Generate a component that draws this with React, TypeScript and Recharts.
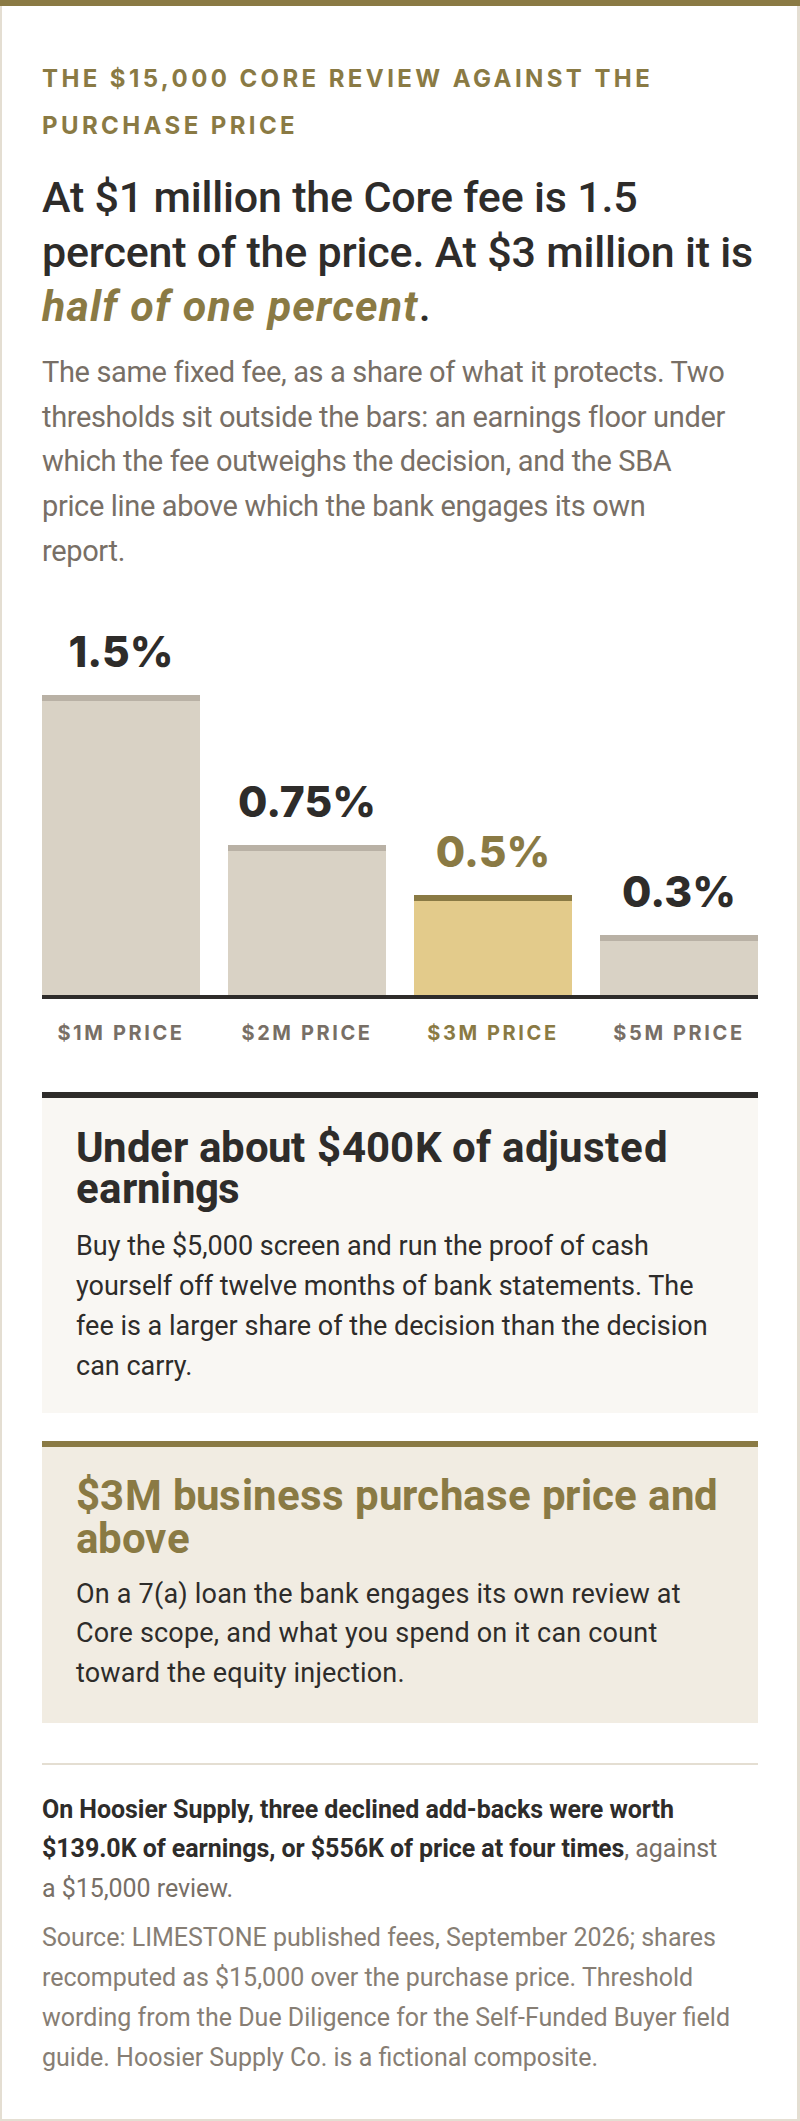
import React from 'react';
import { BarChart, Bar, XAxis, YAxis, LabelList, ReferenceLine } from 'recharts';

const categories = ['$1M PRICE', '$2M PRICE', '$3M PRICE', '$5M PRICE'];
const shares = [1.5, 0.75, 0.5, 0.3];
const shareLabels = ['1.5%', '0.75%', '0.5%', '0.3%'];
const highlightCategory = '$3M PRICE';

const data = categories.map((category, i) => ({ category, share: shares[i], label: shareLabels[i] }));

const GOLD = '#8a7a44';
const DARK = '#2e2c2a';
const GRAY = '#786f66';
const LIGHTGRAY = '#877e74';
const BEIGE = '#e4ded2';

const ROBOTO = 'Roboto, "Noto Sans", sans-serif';
const TITLE = 'TitleBold, Roboto, "Noto Sans", sans-serif';
const INTER = 'Inter, Roboto, sans-serif';

const fontCss = `
@font-face {
  font-family: 'TitleBold';
  src: local('Roboto Bold'), local('Roboto-Bold');
  font-weight: 700;
  font-style: normal;
  ascent-override: 80%;
  descent-override: 18%;
  line-gap-override: 0%;
}
`;

const BarShape = (props: any) => {
  const { x, y, width, height, payload } = props;
  const hi = payload && payload.category === highlightCategory;
  const fill = hi ? '#e3cb8b' : '#d9d2c5';
  const cap = hi ? GOLD : '#b9b1a5';
  return (
    <g>
      <rect x={x} y={y} width={width} height={height} fill={fill} />
      <rect x={x} y={y} width={width} height={Math.min(6, height)} fill={cap} />
    </g>
  );
};

const ValueLabel = (props: any) => {
  const { x, y, width, value } = props;
  const hi = value === shareLabels[categories.indexOf(highlightCategory)];
  return (
    <text
      x={x + width / 2}
      y={y - 28}
      textAnchor="middle"
      fill={hi ? GOLD : DARK}
      style={{ fontFamily: INTER, fontWeight: 800, fontSize: 42.5 }}
    >
      {value}
    </text>
  );
};

const CategoryTick = (props: any) => {
  const { x, y, payload } = props;
  const hi = payload.value === highlightCategory;
  return (
    <text
      x={x}
      y={y + 45}
      textAnchor="middle"
      fill={hi ? GOLD : GRAY}
      style={{ fontFamily: INTER, fontWeight: 700, fontSize: 20, letterSpacing: 2.6 }}
    >
      {payload.value}
    </text>
  );
};

const Baseline = (props: any) => {
  const { x1, x2, y1 } = props;
  return <rect x={Math.min(x1, x2)} y={y1} width={Math.abs(x2 - x1)} height={4} fill={DARK} />;
};

const abs = (top: number, extra: React.CSSProperties = {}): React.CSSProperties => ({
  position: 'absolute',
  left: 42,
  top,
  whiteSpace: 'nowrap',
  margin: 0,
  ...extra,
});

export default function App() {
  return (
    <div style={{ position: 'absolute', left: 0, top: 0, width: 800, height: 2121, background: '#ffffff', overflow: 'hidden' }}>
      <style>{fontCss}</style>
      {/* card frame */}
      <div style={{ position: 'absolute', left: 0, top: 0, width: 2, height: 2121, background: BEIGE }} />
      <div style={{ position: 'absolute', right: 0, top: 0, width: 3, height: 2121, background: BEIGE }} />
      <div style={{ position: 'absolute', left: 0, bottom: 0, width: 800, height: 2, background: BEIGE }} />
      <div style={{ position: 'absolute', left: 0, top: 0, width: 800, height: 6, background: GOLD }} />

      {/* eyebrow */}
      <div style={abs(55, { fontFamily: INTER, fontWeight: 700, fontSize: 24, lineHeight: '47px', letterSpacing: 3.4, color: GOLD })}>
        THE $15,000 CORE REVIEW AGAINST THE
        <br />
        PURCHASE PRICE
      </div>

      {/* headline */}
      <div style={abs(170, { fontFamily: ROBOTO, fontWeight: 500, fontSize: 43, lineHeight: '54.5px', color: DARK, letterSpacing: -0.2 })}>
        At $1 million the Core fee is 1.5
        <br />
        percent of the price. At $3 million it is
        <br />
        <em style={{ color: GOLD, fontWeight: 700, letterSpacing: 1.2 }}>half of one percent</em>.
      </div>

      {/* subtitle */}
      <div style={abs(350, { fontFamily: ROBOTO, fontWeight: 400, fontSize: 29, lineHeight: '44.7px', color: GRAY, letterSpacing: -0.35 })}>
        The same fixed fee, as a share of what it protects. Two
        <br />
        thresholds sit outside the bars: an earnings floor under
        <br />
        which the fee outweighs the decision, and the SBA
        <br />
        price line above which the bank engages its own
        <br />
        report.
      </div>

      {/* chart */}
      <div style={{ position: 'absolute', left: 42, top: 600 }}>
        <BarChart width={716} height={480} data={data} margin={{ top: 95, right: 0, bottom: 25, left: 0 }}>
          <YAxis hide type="number" domain={[0, 1.5]} tickCount={4} allowDataOverflow />
          <XAxis
            dataKey="category"
            axisLine={false}
            tickLine={false}
            tickSize={0}
            tickMargin={0}
            height={60}
            interval={0}
            padding={{ left: -14, right: -14 }}
            tick={<CategoryTick />}
          />
          <Bar dataKey="share" barSize={158} shape={<BarShape />} isAnimationActive={false}>
            <LabelList dataKey="label" content={<ValueLabel />} />
          </Bar>
          <ReferenceLine y={0} shape={<Baseline />} ifOverflow="visible" />
        </BarChart>
      </div>

      {/* box 1 */}
      <div style={{ position: 'absolute', left: 42, top: 1092, width: 716, height: 321, background: '#f9f7f3', borderTop: `6px solid ${DARK}`, boxSizing: 'border-box' }} />
      <div style={abs(1128.5, { left: 76, fontFamily: TITLE, fontWeight: 700, fontSize: 42, lineHeight: '41px', color: DARK, letterSpacing: 0.35 })}>
        Under about $400K of adjusted
        <br />
        earnings
      </div>
      <div style={abs(1225.5, { left: 76, fontFamily: ROBOTO, fontWeight: 400, fontSize: 27, lineHeight: '40px', color: DARK, letterSpacing: 0 })}>
        Buy the $5,000 screen and run the proof of cash
        <br />
        yourself off twelve months of bank statements. The
        <br />
        fee is a larger share of the decision than the decision
        <br />
        can carry.
      </div>

      {/* box 2 */}
      <div style={{ position: 'absolute', left: 42, top: 1441, width: 716, height: 282, background: '#f1ece2', borderTop: `6px solid ${GOLD}`, boxSizing: 'border-box' }} />
      <div style={abs(1475.5, { left: 76, fontFamily: TITLE, fontWeight: 700, fontSize: 42, lineHeight: '43px', color: GOLD, letterSpacing: 0.4 })}>
        $3M business purchase price and
        <br />
        above
      </div>
      <div style={abs(1574.5, { left: 76, fontFamily: ROBOTO, fontWeight: 400, fontSize: 27, lineHeight: '39.5px', color: DARK, letterSpacing: 0.2 })}>
        On a 7(a) loan the bank engages its own review at
        <br />
        Core scope, and what you spend on it can count
        <br />
        toward the equity injection.
      </div>

      {/* divider */}
      <div style={{ position: 'absolute', left: 42, top: 1763, width: 716, height: 2, background: BEIGE }} />

      {/* takeaway */}
      <div style={abs(1789.7, { fontFamily: ROBOTO, fontWeight: 400, fontSize: 25, lineHeight: '39.5px', color: GRAY, letterSpacing: -0.05 })}>
        <strong style={{ color: DARK, fontWeight: 700 }}>On Hoosier Supply, three declined add-backs were worth</strong>
        <br />
        <strong style={{ color: DARK, fontWeight: 700 }}>$139.0K of earnings, or $556K of price at four times</strong>, against
        <br />
        a $15,000 review.
      </div>

      {/* source */}
      <div style={abs(1917.5, { fontFamily: ROBOTO, fontWeight: 400, fontSize: 25, lineHeight: '40px', color: LIGHTGRAY, letterSpacing: 0 })}>
        Source: LIMESTONE published fees, September 2026; shares
        <br />
        recomputed as $15,000 over the purchase price. Threshold
        <br />
        wording from the Due Diligence for the Self-Funded Buyer field
        <br />
        guide. Hoosier Supply Co. is a fictional composite.
      </div>
    </div>
  );
}
